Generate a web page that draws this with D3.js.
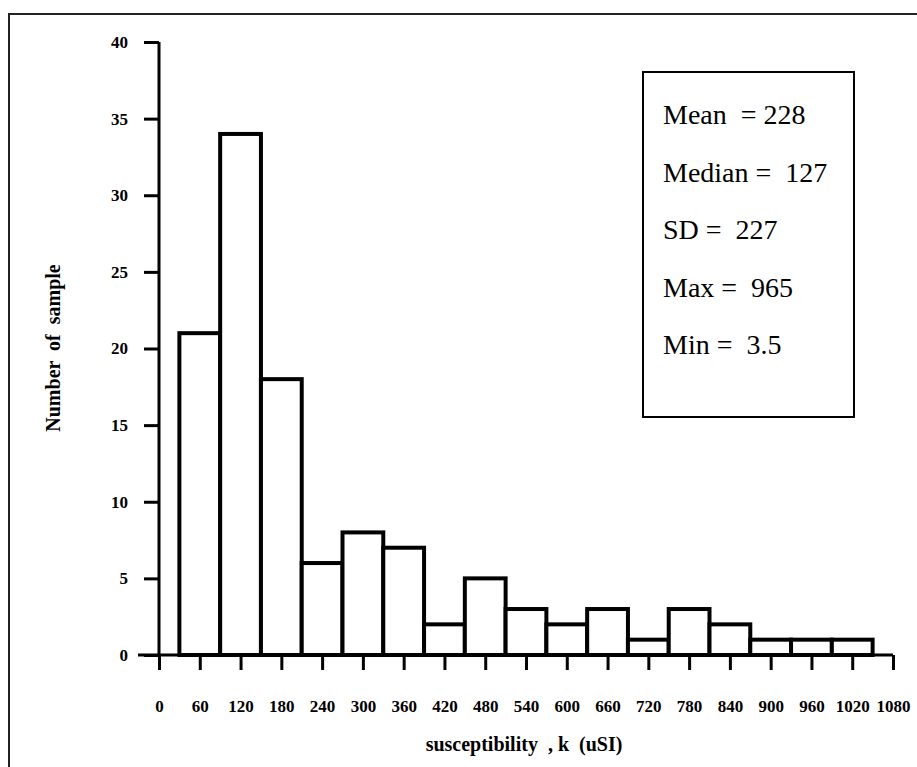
<!DOCTYPE html>
<html>
<head>
<meta charset="utf-8">
<script src="https://d3js.org/d3.v7.min.js"></script>
<style>
  body { margin: 0; background: #fff; }
  svg text { font-family: "Liberation Serif", "Times New Roman", serif; white-space: pre; }
</style>
</head>
<body>
<svg id="chart" width="917" height="767"></svg>
<script>
// histogram bins (centre of each 60-wide class) and counts
const binCenters = [60, 120, 180, 240, 300, 360, 420, 480, 540, 600, 660, 720, 780, 840, 900, 960, 1020];
const counts = [21, 34, 18, 6, 8, 7, 2, 5, 3, 2, 3, 1, 3, 2, 1, 1, 1];
const binWidth = 60;
const xTicks = d3.range(0, 1081, 60);
const yTicks = [0, 5, 10, 15, 20, 25, 30, 35, 40];
const statLines = ["Mean  = 228", "Median =  127", "SD =  227", "Max =  965", "Min =  3.5"];

const svg = d3.select("#chart");

// outer frame (only top and left show)
svg.append("path")
  .attr("d", "M9,767 L9,14 L917,14")
  .attr("fill", "none")
  .attr("stroke", "#222")
  .attr("stroke-width", 2);

const x = d3.scaleLinear().domain([0, 1080]).range([159, 893]);
const y = d3.scaleLinear().domain([0, 40]).range([655, 42]);

// bars
svg.append("g")
  .selectAll("rect")
  .data(binCenters)
  .enter()
  .append("rect")
  .attr("x", (d) => x(d - binWidth / 2))
  .attr("y", (d, i) => y(counts[i]))
  .attr("width", (d) => x(d + binWidth / 2) - x(d - binWidth / 2))
  .attr("height", (d, i) => y(0) - y(counts[i]))
  .attr("fill", "#fff")
  .attr("stroke", "#000")
  .attr("stroke-width", 4);

// y axis
const yAxis = svg.append("g").attr("transform", `translate(${x(0)},0)`)
  .call(d3.axisLeft(y).tickValues(yTicks).tickSize(15).tickPadding(16));
yAxis.select(".domain").attr("d", `M0,${y(40)}V${y(0)}`).attr("stroke-width", 3);
yAxis.selectAll(".tick line").attr("stroke-width", 3);
yAxis.selectAll(".tick text")
  .style("font-weight", "bold")
  .style("font-size", "17px")
  .attr("fill", "#000");

// x axis
const xAxis = svg.append("g").attr("transform", `translate(0,${y(0)})`)
  .call(d3.axisBottom(x).tickValues(xTicks).tickFormat(d3.format("d")).tickSize(15).tickPadding(30));
xAxis.select(".domain").attr("d", `M138,0H${x(1080)}`).attr("stroke-width", 3);
xAxis.selectAll(".tick line").attr("stroke-width", 3);
xAxis.selectAll(".tick text")
  .style("font-weight", "bold")
  .style("font-size", "17px")
  .attr("fill", "#000");

// axis titles
svg.append("text")
  .attr("x", 524)
  .attr("y", 751)
  .attr("text-anchor", "middle")
  .attr("font-weight", "bold")
  .attr("font-size", 20)
  .text("susceptibility  , k  (uSI)");

svg.append("text")
  .attr("transform", "translate(60,348) rotate(-90)")
  .attr("text-anchor", "middle")
  .attr("font-weight", "bold")
  .attr("font-size", 20)
  .text("Number  of  sample");

// stats box
svg.append("rect")
  .attr("x", 643)
  .attr("y", 72)
  .attr("width", 211)
  .attr("height", 345)
  .attr("fill", "#fff")
  .attr("stroke", "#000")
  .attr("stroke-width", 2);

svg.append("g")
  .selectAll("text")
  .data(statLines)
  .enter()
  .append("text")
  .attr("x", 663)
  .attr("y", (d, i) => 124 + i * 57.5)
  .attr("font-size", 28)
  .attr("fill", "#000")
  .text((d) => d);
</script>
</body>
</html>
